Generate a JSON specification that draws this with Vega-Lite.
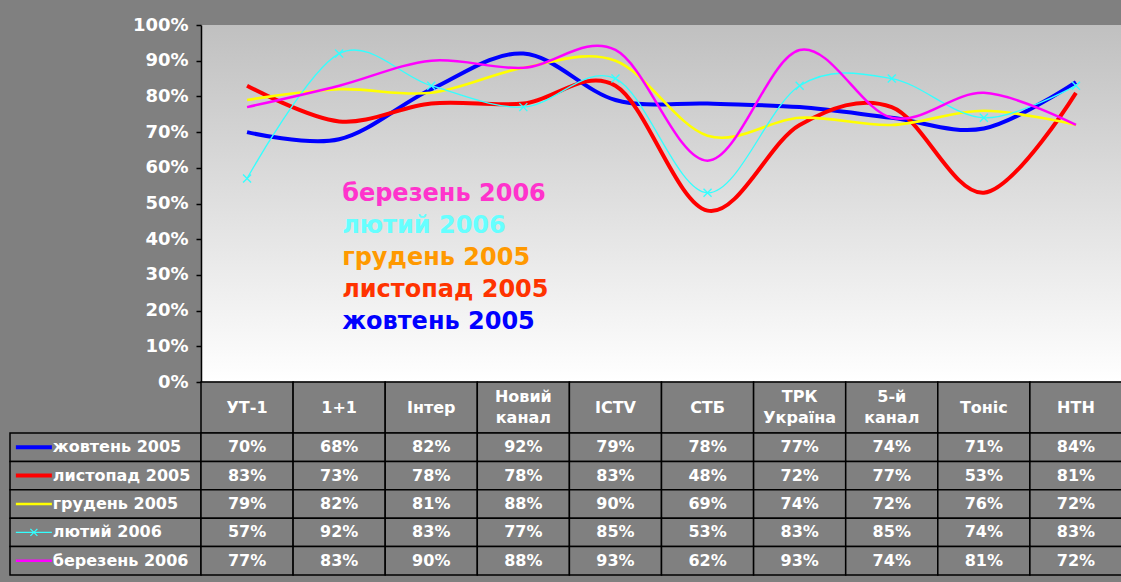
{
  "$schema": "https://vega.github.io/schema/vega-lite/v6.json",
  "background": "#808080",
  "padding": {"top": 16, "left": 7, "right": 0, "bottom": 6},
  "config": {"view": {"stroke": null}, "font": "DejaVu Sans"},
  "datasets": {
    "d": [
      {"channel": "УТ-1", "series": "жовтень 2005", "value": 0.70},
      {"channel": "1+1", "series": "жовтень 2005", "value": 0.68},
      {"channel": "Інтер", "series": "жовтень 2005", "value": 0.82},
      {"channel": "Новий канал", "series": "жовтень 2005", "value": 0.92},
      {"channel": "ICTV", "series": "жовтень 2005", "value": 0.79},
      {"channel": "СТБ", "series": "жовтень 2005", "value": 0.78},
      {"channel": "ТРК Україна", "series": "жовтень 2005", "value": 0.77},
      {"channel": "5-й канал", "series": "жовтень 2005", "value": 0.74},
      {"channel": "Тоніс", "series": "жовтень 2005", "value": 0.71},
      {"channel": "НТН", "series": "жовтень 2005", "value": 0.84},
      {"channel": "УТ-1", "series": "листопад 2005", "value": 0.83},
      {"channel": "1+1", "series": "листопад 2005", "value": 0.73},
      {"channel": "Інтер", "series": "листопад 2005", "value": 0.78},
      {"channel": "Новий канал", "series": "листопад 2005", "value": 0.78},
      {"channel": "ICTV", "series": "листопад 2005", "value": 0.83},
      {"channel": "СТБ", "series": "листопад 2005", "value": 0.48},
      {"channel": "ТРК Україна", "series": "листопад 2005", "value": 0.72},
      {"channel": "5-й канал", "series": "листопад 2005", "value": 0.77},
      {"channel": "Тоніс", "series": "листопад 2005", "value": 0.53},
      {"channel": "НТН", "series": "листопад 2005", "value": 0.81},
      {"channel": "УТ-1", "series": "грудень 2005", "value": 0.79},
      {"channel": "1+1", "series": "грудень 2005", "value": 0.82},
      {"channel": "Інтер", "series": "грудень 2005", "value": 0.81},
      {"channel": "Новий канал", "series": "грудень 2005", "value": 0.88},
      {"channel": "ICTV", "series": "грудень 2005", "value": 0.90},
      {"channel": "СТБ", "series": "грудень 2005", "value": 0.69},
      {"channel": "ТРК Україна", "series": "грудень 2005", "value": 0.74},
      {"channel": "5-й канал", "series": "грудень 2005", "value": 0.72},
      {"channel": "Тоніс", "series": "грудень 2005", "value": 0.76},
      {"channel": "НТН", "series": "грудень 2005", "value": 0.72},
      {"channel": "УТ-1", "series": "лютий 2006", "value": 0.57},
      {"channel": "1+1", "series": "лютий 2006", "value": 0.92},
      {"channel": "Інтер", "series": "лютий 2006", "value": 0.83},
      {"channel": "Новий канал", "series": "лютий 2006", "value": 0.77},
      {"channel": "ICTV", "series": "лютий 2006", "value": 0.85},
      {"channel": "СТБ", "series": "лютий 2006", "value": 0.53},
      {"channel": "ТРК Україна", "series": "лютий 2006", "value": 0.83},
      {"channel": "5-й канал", "series": "лютий 2006", "value": 0.85},
      {"channel": "Тоніс", "series": "лютий 2006", "value": 0.74},
      {"channel": "НТН", "series": "лютий 2006", "value": 0.83},
      {"channel": "УТ-1", "series": "березень 2006", "value": 0.77},
      {"channel": "1+1", "series": "березень 2006", "value": 0.83},
      {"channel": "Інтер", "series": "березень 2006", "value": 0.90},
      {"channel": "Новий канал", "series": "березень 2006", "value": 0.88},
      {"channel": "ICTV", "series": "березень 2006", "value": 0.93},
      {"channel": "СТБ", "series": "березень 2006", "value": 0.62},
      {"channel": "ТРК Україна", "series": "березень 2006", "value": 0.93},
      {"channel": "5-й канал", "series": "березень 2006", "value": 0.74},
      {"channel": "Тоніс", "series": "березень 2006", "value": 0.81},
      {"channel": "НТН", "series": "березень 2006", "value": 0.72}
    ],
    "notes": [
      {"label": "березень 2006", "level": 0.527},
      {"label": "лютий 2006", "level": 0.437},
      {"label": "грудень 2005", "level": 0.347},
      {"label": "листопад 2005", "level": 0.258},
      {"label": "жовтень 2005", "level": 0.168}
    ]
  },
  "columns": 2,
  "align": "each",
  "bounds": "flush",
  "spacing": {"row": 0, "column": 0},
  "concat": [
    {
      "width": 191,
      "height": 357,
      "data": {"values": [{"a": 1}]},
      "mark": {"type": "text", "text": ""},
      "view": {"stroke": null}
    },
    {
      "width": 921,
      "height": 357,
      "view": {
        "stroke": null,
        "fill": {"gradient": "linear", "x1": 0, "y1": 0, "x2": 0, "y2": 1,
          "stops": [{"offset": 0, "color": "#c0c0c0"}, {"offset": 1, "color": "#ffffff"}]}
      },
      "layer": [
        {
          "data": {"name": "d"},
          "mark": {"type": "line", "interpolate": "cardinal"},
          "encoding": {
            "x": {"field": "channel", "type": "nominal",
              "scale": {"type": "point", "padding": 0.5, "domain": ["УТ-1", "1+1", "Інтер", "Новий канал", "ICTV", "СТБ", "ТРК Україна", "5-й канал", "Тоніс", "НТН"]},
              "axis": {"title": null, "labels": false, "ticks": false, "domainColor": "black", "domainWidth": 1.5}},
            "y": {"field": "value", "type": "quantitative",
              "scale": {"domain": [0, 1], "nice": false},
              "axis": {"title": null, "values": [0, 0.1, 0.2, 0.3, 0.4, 0.5, 0.6, 0.7, 0.8, 0.9, 1], "format": ".0%", "grid": false, "labelOverlap": false,
                "domainColor": "black", "domainWidth": 1.5, "tickColor": "black", "tickSize": 5, "tickWidth": 1.5,
                "labelColor": "white", "labelFont": "DejaVu Sans", "labelFontWeight": "bold", "labelFontSize": 18, "labelPadding": 8}},
            "color": {"field": "series", "type": "nominal",
              "scale": {"domain": ["жовтень 2005", "листопад 2005", "грудень 2005", "лютий 2006", "березень 2006"],
                "range": ["#0000ff", "#ff0000", "#ffff00", "#33ffff", "#ff00ff"]}, "legend": null},
            "strokeWidth": {"field": "series", "type": "nominal",
              "scale": {"type": "ordinal", "domain": ["жовтень 2005", "листопад 2005", "грудень 2005", "лютий 2006", "березень 2006"],
                "range": [4, 4, 2.6, 1.3, 2.5]}, "legend": null}
          }
        },
        {
          "data": {"name": "d"},
          "transform": [{"filter": "datum.series === 'лютий 2006'"}],
          "mark": {"type": "point", "shape": "M-1,-1L1,1M1,-1L-1,1", "size": 64, "filled": false, "stroke": "#33ffff", "strokeWidth": 1.3, "opacity": 1},
          "encoding": {
            "x": {"field": "channel", "type": "nominal",
              "axis": {"title": null, "labels": false, "ticks": false, "domainColor": "black", "domainWidth": 1.5}},
            "y": {"field": "value", "type": "quantitative",
              "axis": {"title": null, "values": [0, 0.1, 0.2, 0.3, 0.4, 0.5, 0.6, 0.7, 0.8, 0.9, 1], "format": ".0%", "grid": false, "labelOverlap": false,
                "domainColor": "black", "domainWidth": 1.5, "tickColor": "black", "tickSize": 5, "tickWidth": 1.5,
                "labelColor": "white", "labelFont": "DejaVu Sans", "labelFontWeight": "bold", "labelFontSize": 18, "labelPadding": 8}}
          }
        },
        {
          "data": {"name": "notes"},
          "mark": {"type": "text", "align": "left", "baseline": "middle", "font": "DejaVu Sans", "fontWeight": "bold", "fontSize": 24, "dx": 3},
          "encoding": {
            "x": {"datum": "1+1", "type": "nominal",
              "axis": {"title": null, "labels": false, "ticks": false, "domainColor": "black", "domainWidth": 1.5}},
            "y": {"field": "level", "type": "quantitative",
              "axis": {"title": null, "values": [0, 0.1, 0.2, 0.3, 0.4, 0.5, 0.6, 0.7, 0.8, 0.9, 1], "format": ".0%", "grid": false, "labelOverlap": false,
                "domainColor": "black", "domainWidth": 1.5, "tickColor": "black", "tickSize": 5, "tickWidth": 1.5,
                "labelColor": "white", "labelFont": "DejaVu Sans", "labelFontWeight": "bold", "labelFontSize": 18, "labelPadding": 8}},
            "text": {"field": "label"},
            "fill": {"field": "label", "type": "nominal",
              "scale": {"domain": ["березень 2006", "лютий 2006", "грудень 2005", "листопад 2005", "жовтень 2005"],
                "range": ["#ff33cc", "#66ffff", "#ff9900", "#ff3300", "#0000ff"]}, "legend": null}
          }
        }
      ]
    },
    {
      "width": 191,
      "height": 51,
      "data": {"values": [{"a": 1}]},
      "mark": {"type": "text", "text": ""},
      "view": {"stroke": null}
    },
    {
      "width": 921,
      "height": 51,
      "data": {"name": "d"},
      "transform": [{"filter": "datum.series === 'жовтень 2005'"}],
      "encoding": {
        "x": {"field": "channel", "type": "nominal",
          "scale": {"domain": ["УТ-1", "1+1", "Інтер", "Новий канал", "ICTV", "СТБ", "ТРК Україна", "5-й канал", "Тоніс", "НТН"], "paddingInner": 0, "paddingOuter": 0},
          "axis": null}
      },
      "layer": [
        {"mark": {"type": "rect", "fill": "#808080", "stroke": "black", "strokeWidth": 1.5}},
        {
          "transform": [{"filter": "indexof(datum.channel, ' ') < 0"}],
          "mark": {"type": "text", "color": "white", "font": "DejaVu Sans", "fontWeight": "bold", "fontSize": 16, "baseline": "middle"},
          "encoding": {"text": {"field": "channel"}}
        },
        {
          "transform": [{"filter": "indexof(datum.channel, ' ') > 0"}],
          "mark": {"type": "text", "color": "white", "font": "DejaVu Sans", "fontWeight": "bold", "fontSize": 16, "lineBreak": " ", "lineHeight": 21, "baseline": "middle", "dy": -10.5},
          "encoding": {"text": {"field": "channel"}}
        }
      ]
    },
    {
      "width": 191,
      "height": 142,
      "data": {"name": "d"},
      "transform": [{"filter": "datum.channel === 'УТ-1'"}],
      "encoding": {
        "y": {"field": "series", "type": "nominal",
          "scale": {"domain": ["жовтень 2005", "листопад 2005", "грудень 2005", "лютий 2006", "березень 2006"], "paddingInner": 0, "paddingOuter": 0},
          "axis": null}
      },
      "layer": [
        {"mark": {"type": "rect", "fill": "#808080", "stroke": "black", "strokeWidth": 1.5}},
        {
          "mark": {"type": "point", "shape": "M-1,0L1,0", "size": 1296, "filled": false, "opacity": 1},
          "encoding": {
            "x": {"datum": "key", "type": "nominal",
              "scale": {"type": "band", "domain": ["key", "name"], "paddingInner": 0, "paddingOuter": 1, "align": 0},
              "axis": null},
            "color": {"field": "series", "type": "nominal",
              "scale": {"domain": ["жовтень 2005", "листопад 2005", "грудень 2005", "лютий 2006", "березень 2006"],
                "range": ["#0000ff", "#ff0000", "#ffff00", "#33ffff", "#ff00ff"]}, "legend": null},
            "strokeWidth": {"field": "series", "type": "nominal",
              "scale": {"type": "ordinal", "domain": ["жовтень 2005", "листопад 2005", "грудень 2005", "лютий 2006", "березень 2006"],
                "range": [4, 4, 2.6, 1.3, 2.5]}, "legend": null}
          }
        },
        {
          "transform": [{"filter": "datum.series === 'лютий 2006'"}],
          "mark": {"type": "point", "shape": "M-1,-1L1,1M1,-1L-1,1", "size": 49, "filled": false, "stroke": "#33ffff", "strokeWidth": 1.3, "opacity": 1},
          "encoding": {"x": {"datum": "key", "type": "nominal"}}
        },
        {
          "mark": {"type": "text", "align": "left", "baseline": "middle", "color": "white", "font": "DejaVu Sans", "fontWeight": "bold", "fontSize": 16, "dx": -5},
          "encoding": {
            "x": {"datum": "name", "type": "nominal", "bandPosition": 0},
            "text": {"field": "series"}
          }
        }
      ]
    },
    {
      "width": 921,
      "height": 142,
      "data": {"name": "d"},
      "encoding": {
        "x": {"field": "channel", "type": "nominal",
          "scale": {"domain": ["УТ-1", "1+1", "Інтер", "Новий канал", "ICTV", "СТБ", "ТРК Україна", "5-й канал", "Тоніс", "НТН"], "paddingInner": 0, "paddingOuter": 0},
          "axis": null},
        "y": {"field": "series", "type": "nominal",
          "scale": {"domain": ["жовтень 2005", "листопад 2005", "грудень 2005", "лютий 2006", "березень 2006"], "paddingInner": 0, "paddingOuter": 0},
          "axis": null}
      },
      "layer": [
        {"mark": {"type": "rect", "fill": "#808080", "stroke": "black", "strokeWidth": 1.5}},
        {
          "mark": {"type": "text", "color": "white", "font": "DejaVu Sans", "fontWeight": "bold", "fontSize": 16},
          "encoding": {"text": {"field": "value", "type": "quantitative", "format": ".0%"}}
        }
      ]
    }
  ]
}
